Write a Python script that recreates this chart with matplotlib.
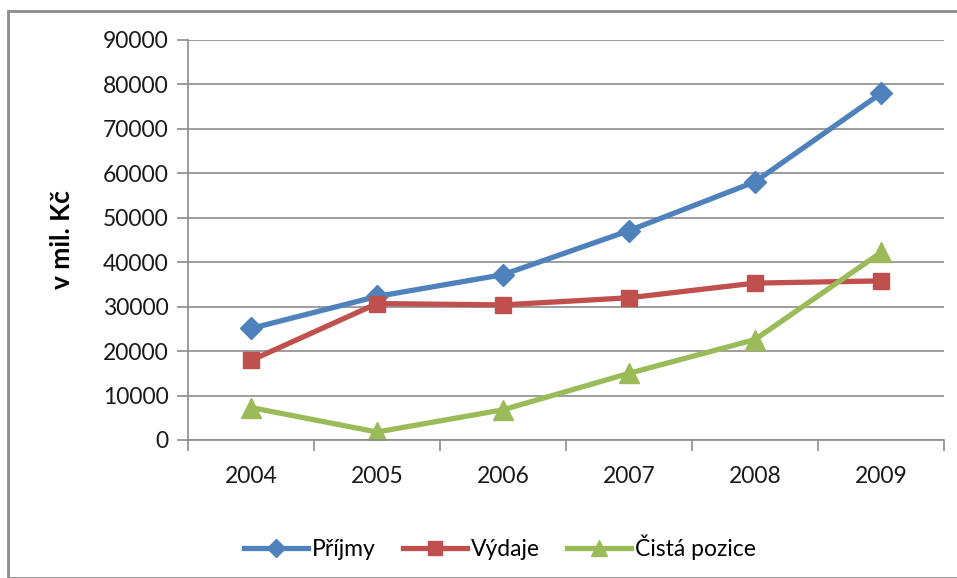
import matplotlib.pyplot as plt
from matplotlib.patches import Rectangle

years = ['2004', '2005', '2006', '2007', '2008', '2009']
prijmy = [25100, 32300, 37200, 47100, 58100, 78000]
vydaje = [17900, 30700, 30400, 32000, 35300, 35800]
cista = [7300, 1800, 6800, 15000, 22600, 42200]
yticks = [0, 10000, 20000, 30000, 40000, 50000, 60000, 70000, 80000, 90000]

plt.rcParams['font.family'] = ['Lato', 'DejaVu Sans']

fig = plt.figure(figsize=(9.57, 5.78), dpi=100)
ax = fig.add_axes([188 / 957, 1 - 440 / 578, (944 - 188) / 957, (440 - 40) / 578])

# chart frame
fig.patches.append(Rectangle((8 / 957, 0.0), 1.0, 1 - 11 / 578, transform=fig.transFigure,
                             fill=False, edgecolor='#8c8c8c', linewidth=2))

x = range(len(years))
ax.plot(x, prijmy, color='#4F81BD', lw=3.8, marker='D', ms=11, label='Příjmy')
ax.plot(x, vydaje, color='#C0504D', lw=3.8, marker='s', ms=12, label='Výdaje')
ax.plot(x, cista, color='#9BBB59', lw=3.8, marker='^', ms=14, label='Čistá pozice')

ax.set_xlim(-0.5, len(years) - 0.5)
ax.set_ylim(0, 90000)
ax.set_yticks(yticks)
ax.set_yticklabels([str(v) for v in yticks])
ax.set_xticks(x)
ax.set_xticklabels(years)
ax.set_xticks([i - 0.5 for i in range(len(years) + 1)], minor=True)
ax.tick_params(axis='x', which='major', length=0, pad=19, labelsize=16.5, colors='#1a1a1a')
ax.tick_params(axis='x', which='minor', length=8, color='#8c8c8c', width=1.2)
ax.tick_params(axis='y', length=8, color='#8c8c8c', width=1.2, labelsize=16.5, pad=6,
               labelcolor='#1a1a1a')
ax.grid(axis='y', color='#8c8c8c', linewidth=1.2)
ax.set_axisbelow(True)
for s in ['top', 'right']:
    ax.spines[s].set_visible(False)
for s in ['left', 'bottom']:
    ax.spines[s].set_color('#8c8c8c')
    ax.spines[s].set_linewidth(1.2)

fig.text(62 / 957, 1 - 240 / 578, 'v mil. Kč', rotation=90, fontsize=19, fontweight='bold',
         ha='center', va='center')

fig.legend(loc='center', bbox_to_anchor=(500 / 957, 1 - 547 / 578), ncol=3, frameon=False,
           fontsize=16.5, handlelength=2.8, handletextpad=0.15, columnspacing=1.2,
           markerscale=0.85)

fig.savefig('out.png', dpi=100)
